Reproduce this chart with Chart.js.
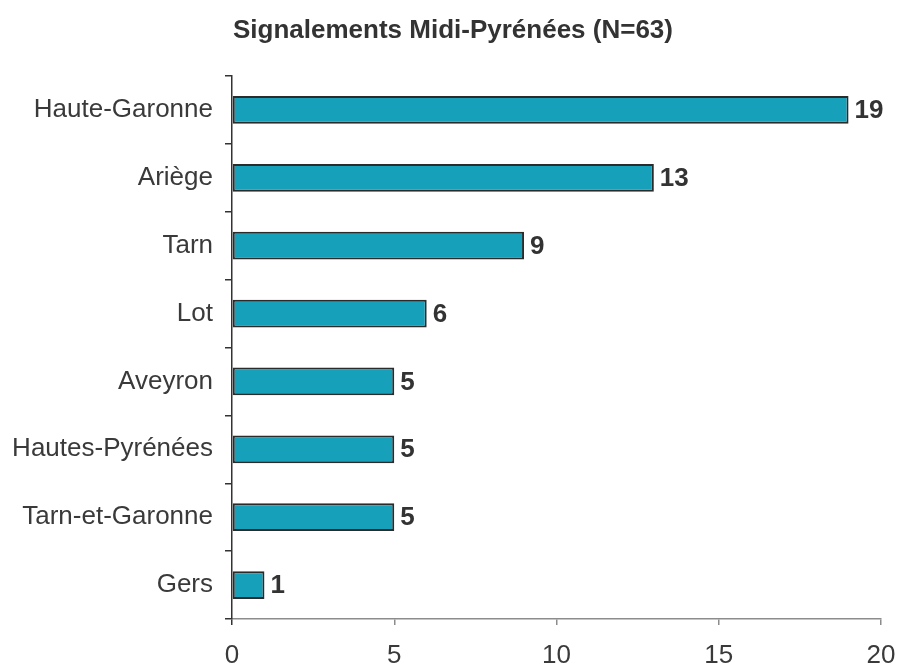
<!DOCTYPE html>
<html>
<head>
<meta charset="utf-8">
<title>Signalements Midi-Pyrénées</title>
<script src="https://cdn.jsdelivr.net/npm/chart.js@4/dist/chart.umd.min.js"></script>
<style>
	body { margin: 0; background: #fff; }
	canvas { display: block; }
</style>
</head>
<body>
<canvas id="chart" width="899" height="668"></canvas>
<script>
const titleText = "Signalements Midi-Pyrénées (N=63)"
const departements = [
	"Haute-Garonne",
	"Ariège",
	"Tarn",
	"Lot",
	"Aveyron",
	"Hautes-Pyrénées",
	"Tarn-et-Garonne",
	"Gers",
]
const signalements = [19, 13, 9, 6, 5, 5, 5, 1]
const xTicks = [0, 5, 10, 15, 20]

const FONT = "'Liberation Sans', Arial, Helvetica, sans-serif"
const TEXT = "#3a3a3a"

// titre dessiné à la main pour garder la zone du graphe fixe
const titlePlugin = {
	id: "titre",
	afterDraw(chart) {
		const c = chart.ctx
		c.save()
		c.font = "bold 26px " + FONT
		c.fillStyle = "#333"
		c.textAlign = "center"
		c.textBaseline = "alphabetic"
		c.fillText(titleText, 453, 38)
		c.restore()
	},
}

// valeurs à droite des barres
const valeursPlugin = {
	id: "valeurs",
	afterDatasetsDraw(chart) {
		const c = chart.ctx
		const meta = chart.getDatasetMeta(0)
		c.save()
		c.font = "bold 26px " + FONT
		c.fillStyle = "#333"
		c.textAlign = "left"
		c.textBaseline = "middle"
		meta.data.forEach((bar, i) => {
			c.fillText(String(signalements[i]), bar.x + 6, bar.y + 1)
		})
		c.restore()
	},
}

new Chart(document.getElementById("chart"), {
	type: "bar",
	data: {
		labels: departements,
		datasets: [
			{
				data: signalements,
				backgroundColor: "#17a0ba",
				borderColor: "#2b2b2b",
				borderWidth: 2,
				borderSkipped: false,
				barPercentage: 0.41,
				categoryPercentage: 1,
			},
		],
	},
	options: {
		indexAxis: "y",
		responsive: false,
		animation: false,
		layout: {
			padding: { top: 76, right: 18, left: 0, bottom: 0 },
		},
		scales: {
			x: {
				min: 0,
				max: 20,
				afterBuildTicks: (axis) => {
					axis.ticks = xTicks.map((v) => ({ value: v }))
				},
				afterFit: (axis) => {
					axis.height = 49
					axis.paddingLeft = 0
					axis.paddingRight = 0
				},
				grid: {
					drawOnChartArea: false,
					tickLength: 6,
					lineWidth: 1.5,
					color: (ctx) => (ctx.index === 0 ? "#333" : "#8c8c8c"),
				},
				border: { color: "#8c8c8c", width: 1.5 },
				ticks: {
					font: { family: FONT, size: 26 },
					color: TEXT,
					padding: 15,
					maxRotation: 0,
				},
			},
			y: {
				afterFit: (axis) => {
					axis.width = 232
				},
				grid: {
					drawOnChartArea: false,
					offset: true,
					tickLength: 7,
					lineWidth: 1.5,
					color: "#333",
				},
				border: { color: "#333", width: 1.5 },
				ticks: {
					font: { family: FONT, size: 26 },
					color: TEXT,
					padding: 12,
				},
			},
		},
		plugins: {
			legend: { display: false },
			title: { display: false },
			tooltip: { enabled: false },
		},
	},
	plugins: [titlePlugin, valeursPlugin],
})
</script>
</body>
</html>
